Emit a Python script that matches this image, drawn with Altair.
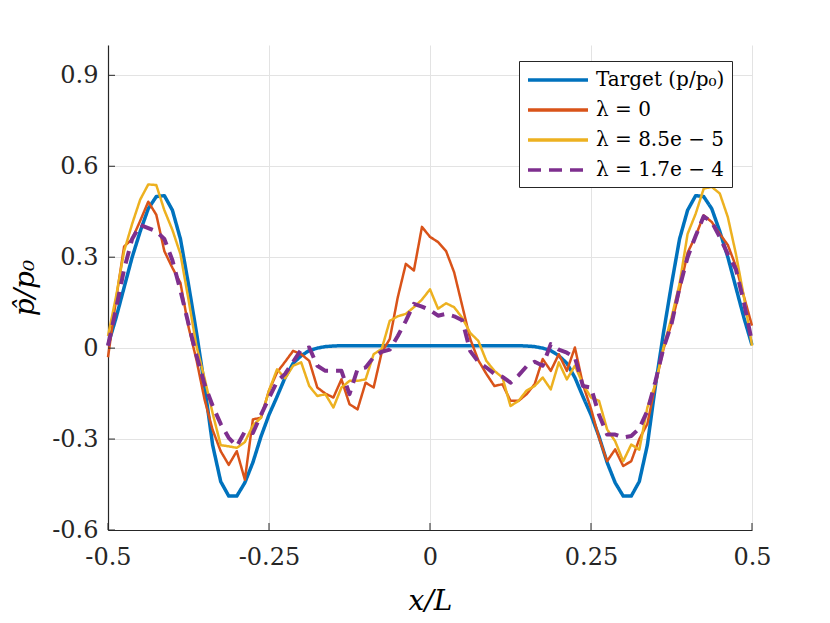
import altair as alt
import pandas as pd

# x positions (x/L)
x_vals = [-0.5, -0.4875, -0.475, -0.4625, -0.45, -0.4375, -0.425, -0.4125, -0.4, -0.3875,
          -0.375, -0.3625, -0.35, -0.3375, -0.325, -0.3125, -0.3, -0.2875, -0.275, -0.2625,
          -0.25, -0.2375, -0.225, -0.2125, -0.2, -0.1875, -0.175, -0.1625, -0.15, -0.1375,
          -0.125, -0.1125, -0.1, -0.0875, -0.075, -0.0625, -0.05, -0.0375, -0.025, -0.0125,
          0.0,
          0.0125, 0.025, 0.0375, 0.05, 0.0625, 0.075, 0.0875, 0.1, 0.1125, 0.125,
          0.1375, 0.15, 0.1625, 0.175, 0.1875, 0.2, 0.2125, 0.225, 0.2375, 0.25,
          0.2625, 0.275, 0.2875, 0.3, 0.3125, 0.325, 0.3375, 0.35, 0.3625, 0.375,
          0.3875, 0.4, 0.4125, 0.425, 0.4375, 0.45, 0.4625, 0.475, 0.4875, 0.5]

target = [0.01, 0.10, 0.20, 0.30, 0.385, 0.46, 0.50, 0.503, 0.455, 0.36,
          0.21, 0.05, -0.125, -0.32, -0.44, -0.488, -0.488, -0.444, -0.377, -0.292,
          -0.22, -0.16, -0.097, -0.05, -0.025, -0.008, 0.0, 0.005, 0.007, 0.008,
          0.008, 0.008, 0.008, 0.008, 0.008, 0.008, 0.008, 0.008, 0.008, 0.008,
          0.008,
          0.008, 0.008, 0.008, 0.008, 0.008, 0.008, 0.008, 0.008, 0.008, 0.008,
          0.008, 0.007, 0.005, 0.0, -0.008, -0.025, -0.05, -0.097, -0.16, -0.22,
          -0.292, -0.377, -0.444, -0.488, -0.488, -0.44, -0.32, -0.125, 0.05, 0.21,
          0.36, 0.455, 0.503, 0.50, 0.46, 0.385, 0.30, 0.20, 0.10, 0.01]

lam_0 = [-0.03, 0.16, 0.335, 0.36, 0.42, 0.483, 0.44, 0.32, 0.265, 0.215,
         0.07, -0.04, -0.17, -0.27, -0.34, -0.385, -0.34, -0.434, -0.235, -0.23,
         -0.14, -0.08, -0.045, -0.009, -0.02, -0.042, -0.13, -0.15, -0.163, -0.103,
         -0.185, -0.202, -0.114, -0.13, -0.014, 0.03, 0.168, 0.278, 0.256, 0.40,
         0.367,
         0.35, 0.32, 0.25, 0.14, 0.03, -0.04, -0.085, -0.125, -0.119, -0.174,
         -0.174, -0.152, -0.119, -0.036, -0.075, -0.02, -0.075, 0.002, -0.12, -0.2,
         -0.296, -0.373, -0.334, -0.389, -0.373, -0.30, -0.25, -0.12, -0.003, 0.08,
         0.19, 0.315, 0.37, 0.438, 0.416, 0.377, 0.34, 0.27, 0.17, 0.074]

lam_85 = [0.04, 0.17, 0.32, 0.41, 0.49, 0.54, 0.538, 0.455, 0.39, 0.31,
          0.16, 0.005, -0.10, -0.215, -0.32, -0.324, -0.329, -0.31, -0.255, -0.23,
          -0.14, -0.07, -0.10, -0.058, -0.047, -0.125, -0.158, -0.152, -0.196, -0.13,
          -0.108, -0.108, -0.103, -0.02, -0.003, 0.09, 0.105, 0.113, 0.135, 0.16,
          0.194,
          0.13, 0.148, 0.135, 0.10, 0.05, 0.024, -0.042, -0.075, -0.097, -0.191,
          -0.174, -0.14, -0.125, -0.097, -0.136, -0.047, -0.103, -0.058, -0.119, -0.163,
          -0.174, -0.268, -0.307, -0.373, -0.318, -0.335, -0.196, -0.119, 0.002, 0.101,
          0.212, 0.377, 0.443, 0.526, 0.532, 0.51, 0.432, 0.311, 0.168, 0.008]

lam_17 = [0.008, 0.13, 0.26, 0.36, 0.406, 0.396, 0.385, 0.36, 0.29, 0.19,
          0.08, -0.025, -0.12, -0.19, -0.25, -0.296, -0.324, -0.275, -0.28, -0.22,
          -0.165, -0.11, -0.085, -0.045, -0.005, 0.002, -0.058, -0.075, -0.075, -0.075,
          -0.152, -0.069, -0.064, -0.03, -0.012, -0.005, 0.04, 0.09, 0.146, 0.137,
          0.125,
          0.107, 0.113, 0.105, 0.092, -0.01, -0.045, -0.064, -0.085, -0.095, -0.114,
          -0.09, -0.06, -0.045, -0.058, 0.013, -0.005, -0.015, -0.031, -0.125, -0.13,
          -0.22, -0.285, -0.285, -0.295, -0.29, -0.265, -0.207, -0.11, 0.0, 0.079,
          0.2, 0.3, 0.37, 0.435, 0.416, 0.366, 0.31, 0.26, 0.15, 0.02]

series_names = ["Target (p/p\u2080)", "\u03bb = 0", "\u03bb = 8.5e \u2212 5", "\u03bb = 1.7e \u2212 4"]
series_values = [target, lam_0, lam_85, lam_17]
colors = ["#0072BD", "#D95319", "#EDB120", "#7E2F8E"]
widths = [3.5, 2.5, 2.5, 4.0]
dashes = [[1, 0], [1, 0], [1, 0], [13, 8]]

x_ticks = [-0.5, -0.25, 0, 0.25, 0.5]
x_tick_labels = ["-0.5", "-0.25", "0", "0.25", "0.5"]
y_ticks = [-0.6, -0.3, 0, 0.3, 0.6, 0.9]
y_tick_labels = ["-0.6", "-0.3", "0", "0.3", "0.6", "0.9"]

rows = []
for name, vals, w in zip(series_names, series_values, widths):
    for xv, yv in zip(x_vals, vals):
        rows.append({"x": xv, "y": yv, "series": name, "w": w})
df = pd.DataFrame(rows)


def label_expr(vals, labels):
    v = ",".join(repr(float(a)) for a in vals)
    l = ",".join("'" + s + "'" for s in labels)
    return f"[{l}][indexof([{v}], datum.value)]"


FONT = "DejaVu Serif"
xscale = alt.Scale(domain=[-0.5, 0.5], nice=False, zero=False)
yscale = alt.Scale(domain=[-0.6, 1.0], nice=False, zero=False)

x_axis = alt.Axis(values=x_ticks, title="x/L", grid=True, ticks=False, labelFlush=False,
                  labelExpr=label_expr(x_ticks, x_tick_labels),
                  labelPadding=15, titlePadding=18)
y_axis = alt.Axis(values=y_ticks, title="p\u0302/p\u2080", grid=True, ticks=False, labelFlush=False,
                  labelExpr=label_expr(y_ticks, y_tick_labels),
                  labelPadding=10, titlePadding=12)

legend = alt.Legend(orient="none", legendX=411, legendY=16, title=None,
                    symbolType="M-1,0H5", symbolSize=400,
                    symbolStrokeWidth=3.5, labelFont=FONT,
                    labelFontSize=20, labelColor="#000000",
                    fillColor="white", strokeColor="#262626",
                    padding=7, rowPadding=8, labelOffset=46,
                    labelLimit=400)

lines = alt.Chart(df).mark_line(strokeJoin="round").encode(
    x=alt.X("x:Q", scale=xscale, axis=x_axis),
    y=alt.Y("y:Q", scale=yscale, axis=y_axis),
    color=alt.Color("series:N", scale=alt.Scale(domain=series_names, range=colors),
                    legend=legend),
    strokeDash=alt.StrokeDash("series:N", scale=alt.Scale(domain=series_names, range=dashes),
                              legend=legend),
    strokeWidth=alt.StrokeWidth("w:Q", scale=None, legend=None),
)

xt_df = pd.DataFrame({"x": x_ticks, "y": [-0.6] * len(x_ticks)})
yt_df = pd.DataFrame({"y": y_ticks, "x": [-0.5] * len(y_ticks)})

xtick_rules = alt.Chart(xt_df).mark_rule(color="#262626", strokeWidth=1).encode(
    x=alt.X("x:Q", scale=xscale, axis=x_axis),
    y=alt.Y("y:Q", scale=yscale, axis=y_axis),
    y2=alt.value(478),
)
ytick_rules = alt.Chart(yt_df).mark_rule(color="#262626", strokeWidth=1).encode(
    y=alt.Y("y:Q", scale=yscale, axis=y_axis),
    x=alt.X("x:Q", scale=xscale, axis=x_axis),
    x2=alt.value(7),
)

chart = alt.layer(lines, xtick_rules, ytick_rules).properties(
    width=644, height=485,
    autosize=alt.AutoSizeParams(type="none"),
    padding={"left": 100, "top": 37, "right": 70, "bottom": 85},
).configure_view(stroke=None).configure_axis(
    labelFont=FONT, labelFontSize=24, labelColor="#262626",
    titleFont=FONT, titleFontSize=28, titleFontStyle="italic", titleFontWeight="normal",
    titleColor="#000000", domainColor="#262626", domainWidth=1.2,
    gridColor="#e3e3e3", gridWidth=1,
)

chart.save("out.html", embed_options={"renderer": "svg", "actions": False})
